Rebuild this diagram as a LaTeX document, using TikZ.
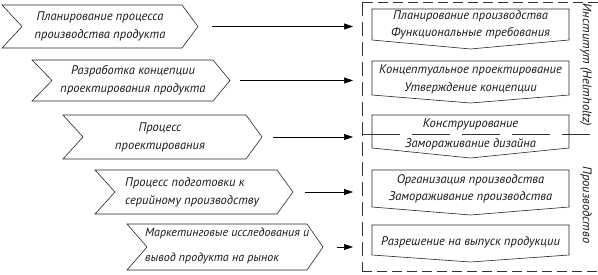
\documentclass[tikz,border=0pt]{standalone}
\usepackage{fontspec}
\setsansfont{PT Sans}
\usetikzlibrary{arrows.meta}
\tikzset{
  shapeline/.style={draw=black!85, line width=0.6pt, line join=miter},
  arr/.style={draw=black, line width=0.6pt, -{Triangle[length=9pt,width=6pt]}},
  txt/.style={font=\sffamily\itshape\fontsize{12.5}{18}\selectfont, align=center, inner sep=0pt, text=black!90},
  frame/.style={draw=black!80, line width=0.7pt},
}
\newcommand{\chev}[6]{% name, L, T, B, R, P
  \draw[shapeline] (#2,#3) -- (#5,#3) -- (#6,{(#3+#4)/2}) -- (#5,#4) -- (#2,#4) -- ({#2+20},{(#3+#4)/2}) -- cycle;
  \coordinate (#1tip) at (#6,{(#3+#4)/2});
}
\newcommand{\pbox}[4]{% name, T, S, Pt
  \draw[shapeline] (372,#2) -- (569,#2) -- (569,#3) -- (470.5,#4) -- (372,#3) -- cycle;
}
\begin{document}
\begin{tikzpicture}[x=1pt,y=-1pt]
\useasboundingbox (0,0) rectangle (598,275);
% chevrons
\chev{c1}{2}{5}{48}{182}{198}
\chev{c2}{32}{60}{101}{213}{230}
\chev{c3}{63}{115}{159}{246}{262}
\chev{c4}{95}{170}{214}{277}{293}
\chev{c5}{127}{224}{270}{307}{323}
\node[txt] (t1) at (100,26.5) {Планирование процесса\\производства продукта};
\node[txt] (t2) at (133,80.5) {Разработка концепции\\проектирования продукта};
\node[txt] (t3) at (160,137) {Процесс\\проектирования};
\node[txt, align=left, anchor=west] (t4) at (125,192) {Процесс подготовки к\\серийному производству};
\node[txt, align=left, anchor=west, font=\sffamily\itshape\fontsize{12}{25}\selectfont] (t5) at (145,246) {Маркетинговые исследования и\\вывод продукта на рынок};
% frame
\coordinate (fa1) at (353,26.5);
\coordinate (fa2) at (353,80.5);
\coordinate (fa3) at (353,137);
\coordinate (fa4) at (353,192);
\coordinate (fa5) at (353,247);
\draw[frame, dash pattern=on 10pt off 5pt] (598,2) -- (362,2);
\draw[frame, dash pattern=on 14pt off 6pt] (362,2) -- (362,271);
\draw[frame, dash pattern=on 10pt off 5pt] (362,271) -- (598,271);
% boxes
\pbox{b1}{9}{40}{49}
\pbox{b2}{61}{95}{103}
\pbox{b3}{115}{148}{158}
\pbox{b4}{170}{207}{215}
\pbox{b5}{225}{255}{262}
\node[txt, font=\sffamily\itshape\fontsize{12.5}{16.5}\selectfont] (r1) at (470.5,25) {Планирование производства\\Функциональные требования};
\node[txt, font=\sffamily\itshape\fontsize{12.5}{18}\selectfont] (r2) at (470.5,79) {Концептуальное проектирование\\Утверждение концепции};
\node[txt, font=\sffamily\itshape\fontsize{12.5}{20}\selectfont] (r3) at (470.5,134) {Конструирование\\Замораживание дизайна};
\node[txt, font=\sffamily\itshape\fontsize{12.5}{17}\selectfont] (r4) at (470.5,188.5) {Организация производства\\Замораживание производства};
\node[txt] (r5) at (470.5,242) {Разрешение на выпуск продукции};
% separator
\coordinate (s1) at (362,134);
\coordinate (s2) at (590,134);
\draw[frame, line width=0.6pt, dash pattern=on 38pt off 12pt] (s1) -- (s2);
% side labels
\node[txt, rotate=-90] (v1) at (586,65) {Институт (Helmholtz)};
\node[txt, rotate=-90] (v2) at (586,205) {Производство};
% arrows
\draw[arr] ([xshift=14pt]c1tip) -- (fa1);
\draw[arr] ([xshift=10pt]c2tip) -- (fa2);
\draw[arr] ([xshift=11pt]c3tip) -- (fa3);
\draw[arr] ([xshift=12pt]c4tip) -- (fa4);
\draw[arr] ([xshift=14pt]c5tip) -- (fa5);
\end{tikzpicture}
\end{document}
